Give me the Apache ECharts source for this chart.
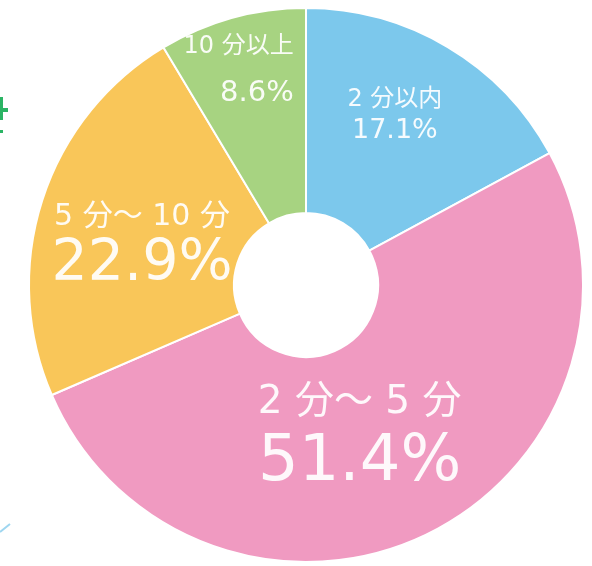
<!DOCTYPE html>
<html>
<head>
<meta charset="utf-8">
<script src="https://cdn.jsdelivr.net/npm/echarts@6/dist/echarts.min.js"></script>
<style>
    html, body { margin: 0; padding: 0; background: #fff; }
    #main { width: 592px; height: 566px; }
</style>
</head>
<body>
<div id="main"></div>
<script>
// 回答時間の分布
const categories = ['2 分以内', '2 分～ 5 分', '5 分～ 10 分', '10 分以上'];
const shares = [17.1, 51.4, 22.9, 8.6];

// 見た目
const sliceColors = ['#7cc8ec', '#f09ac1', '#f9c659', '#a7d381'];
const labelSizes = [[24, 27], [39, 64], [30, 57], [24, 29]];
const labelLines = [[30, 32], [50, 72], [36, 60], [56, 38]];
const labelShift = [[-2, -17], [-24, -6], [5, 17], [-20, -48]];
const labelAlign = ['center', 'center', 'center', 'right'];

const chart = echarts.init(document.getElementById('main'));

const pieData = categories.map((name, i) => ({
    name: name,
    value: shares[i],
    itemStyle: { color: sliceColors[i] },
    label: {
        rich: {
            t: { fontSize: labelSizes[i][0], lineHeight: labelLines[i][0], align: labelAlign[i] },
            v: { fontSize: labelSizes[i][1], lineHeight: labelLines[i][1], align: labelAlign[i] }
        }
    }
}));

const option = {
    backgroundColor: '#ffffff',
    animation: false,
    textStyle: { fontFamily: '"DejaVu Sans", "Noto Sans CJK JP", sans-serif' },
    graphic: [
        // 切り抜きの端に残った飾り
        { type: 'rect', shape: { x: 0, y: 108, width: 8, height: 4 }, style: { fill: '#2bb464' } },
        { type: 'rect', shape: { x: 0, y: 97, width: 3, height: 23 }, style: { fill: '#2bb464' } },
        { type: 'rect', shape: { x: 0, y: 130, width: 3, height: 3 }, style: { fill: '#2bb464' } },
        { type: 'line', shape: { x1: 0, y1: 532, x2: 10, y2: 524 }, style: { stroke: '#9ed6f0', lineWidth: 2 } }
    ],
    series: [
        {
            type: 'pie',
            center: [306, 285],
            radius: [72, 277],
            startAngle: 90,
            clockwise: true,
            avoidLabelOverlap: false,
            itemStyle: { borderColor: '#ffffff', borderWidth: 2 },
            label: {
                show: true,
                position: 'inside',
                color: 'rgba(255,255,255,0.93)',
                fontFamily: '"DejaVu Sans", "Noto Sans CJK JP", sans-serif',
                formatter: p => '{t|' + p.name + '}\n{v|' + p.value + '%}'
            },
            labelLine: { show: false },
            labelLayout: p => ({ dx: labelShift[p.dataIndex][0], dy: labelShift[p.dataIndex][1] }),
            emphasis: { disabled: true },
            data: pieData
        }
    ]
};

chart.setOption(option);
</script>
</body>
</html>
